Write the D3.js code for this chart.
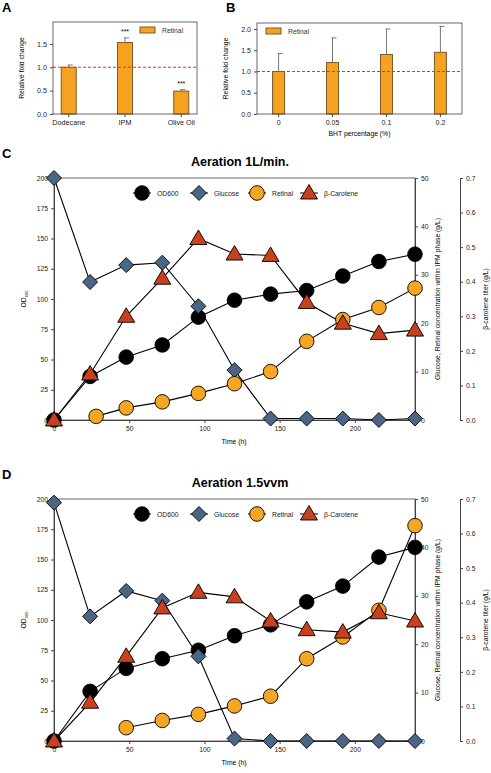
<!DOCTYPE html>
<html><head><meta charset="utf-8">
<script src="https://cdn.jsdelivr.net/npm/d3@7"></script>
<style>body{margin:0;background:#fff}svg{font-family:Arial,"Liberation Sans",sans-serif}</style>
</head><body><svg id="c" width="491" height="773"></svg>
<script>
// Panel A
const aCats=["Dodecane","IPM","Olive Oil"];
const aVals=[1.0,1.53,0.49];
const aErr=[0.05,0.1,0.03];
const aSig=["","***","***"];
// Panel B
const bCats=["0","0.05","0.1","0.2"];
const bVals=[1.0,1.21,1.40,1.45];
const bErr=[0.42,0.58,0.60,0.61];
// Panel C
const cTime=[0,24,48,72,96,120,144,168,192,216,240];
const cOD=[0,36,52,62,85,99,104,107,119,131,137];
const cGlc=[50,28.5,32,32.5,23.5,10.3,0.3,0.3,0.3,0,0.3];
const cRetT=[28,48,72,96,120,144,168,192,216,240];
const cRet=[0.75,2.5,3.75,5.5,7.5,10,16.25,20.75,23.25,27.25];
const cCar=[0,0.133,0.30,0.41,0.525,0.48,0.476,0.34,0.28,0.25,0.26];
// Panel D
const dTime=[0,24,48,72,96,120,144,168,192,216,240];
const dOD=[0,41,60,68,75,87,96,115,128,152,160];
const dGlc=[49.25,25.75,31,29,17.5,0.5,0,0,0,0,0];
const dRetT=[48,72,96,120,144,168,192,216,240];
const dRet=[2.75,4.25,5.5,7.25,9.25,17,21.5,27,44.5];
const dCar=[0,0.112,0.245,0.385,0.43,0.417,0.347,0.322,0.315,0.371,0.347];

const svg=d3.select("#c");
const BAR="#f4a21f",BARS="#7a5a2a",RED="#e8302a";
const COL={od:"#000",glc:"#4b6584",ret:"#f5a623",car:"#c8401e"};

function letter(t,x,y){svg.append("text").attr("x",x).attr("y",y).attr("font-size",13).attr("font-weight","bold").text(t);}

function barPanel(cats,vals,err,L,R,T,B,ymax,opts){
  const g=svg.append("g");
  const x=d3.scaleBand().domain(cats).range([L,R]).paddingInner(opts.pad).paddingOuter(opts.outer);
  const y=d3.scaleLinear().domain([0,ymax]).range([B,T]);
  const bw=opts.bw;
  cats.forEach((c,i)=>{
    const cx=x(c)+x.bandwidth()/2;
    g.append("line").attr("x1",cx).attr("x2",cx).attr("y1",y(vals[i])).attr("y2",y(vals[i]+err[i])).attr("stroke","#555").attr("stroke-width",0.8);
    g.append("line").attr("x1",cx-1).attr("x2",cx+4).attr("y1",y(vals[i]+err[i])).attr("y2",y(vals[i]+err[i])).attr("stroke","#555").attr("stroke-width",0.8);
    g.append("rect").attr("x",cx-bw/2).attr("width",bw).attr("y",y(vals[i])).attr("height",B-y(vals[i])).attr("fill",BAR).attr("stroke",BARS).attr("stroke-width",1);
    if(opts.sig&&opts.sig[i]) g.append("text").attr("x",cx).attr("y",y(vals[i]+err[i])-4).attr("text-anchor","middle").attr("font-size",7).text(opts.sig[i]);
  });
  g.append("line").attr("x1",L).attr("x2",R).attr("y1",y(1)).attr("y2",y(1)).attr("stroke",RED).attr("stroke-dasharray","3,2").attr("stroke-width",1.1);
  g.append("rect").attr("x",L).attr("y",T).attr("width",R-L).attr("height",B-T).attr("fill","none").attr("stroke","#444").attr("stroke-width",0.8);
  const ya=g.append("g").attr("transform",`translate(${L},0)`).call(d3.axisLeft(y).tickValues(opts.ticks).tickFormat(d3.format(".1f")).tickSize(3));
  const xa=g.append("g").attr("transform",`translate(0,${B})`).call(d3.axisBottom(x).tickSize(3));
  [ya,xa].forEach(a=>{a.select(".domain").remove();a.selectAll("text").attr("font-size",opts.fs).attr("fill","#222");a.selectAll("line").attr("stroke","#444");});
  g.append("text").attr("transform",`translate(${L-29},${(T+B)/2}) rotate(-90)`).attr("text-anchor","middle").attr("font-size",6.8).text("Relative fold change");
  g.append("rect").attr("x",opts.legX).attr("y",T+5).attr("width",15).attr("height",6).attr("fill",BAR).attr("stroke",BARS);
  g.append("text").attr("x",opts.legX+22).attr("y",T+11).attr("font-size",6.8).attr("fill","#333").text("Retinal");
  if(opts.xlabel) g.append("text").attr("x",(L+R)/2).attr("y",B+22).attr("text-anchor","middle").attr("font-size",6.8).text(opts.xlabel);
}
letter("A",2,12);
barPanel(aCats,aVals,aErr,53,197,22,114,1.97,{pad:0.78,outer:0.17,bw:15,ticks:[0,0.5,1,1.5],fs:7.2,sig:aSig,legX:140});
letter("B",226,12);
barPanel(bCats,bVals,bErr,257,462,23,114,2.14,{pad:0.8,outer:0.3,bw:12,ticks:[0,0.5,1,1.5,2],fs:7,legX:266,xlabel:"BHT percentage (%)"});

function sym(g,type,cx,cy,col){
  if(type==="circle") g.append("circle").attr("cx",cx).attr("cy",cy).attr("r",7.3).attr("fill",col).attr("stroke","#000").attr("stroke-width",0.9);
  else if(type==="diamond") g.append("path").attr("d",`M${cx},${cy-7.5}L${cx+7.5},${cy}L${cx},${cy+7.5}L${cx-7.5},${cy}Z`).attr("fill",col).attr("stroke","#000").attr("stroke-width",0.9);
  else g.append("path").attr("d",`M${cx},${cy-8.5}L${cx+8.5},${cy+6}L${cx-8.5},${cy+6}Z`).attr("fill",col).attr("stroke","#000").attr("stroke-width",0.9);
}

function linePanel(lt,title,T,B,time,od,glc,retT,ret,car){
  const L=54,R=415,R2=460;
  const g=svg.append("g");
  letter(lt,2,T-20);
  g.append("text").attr("x",240).attr("y",T-12).attr("text-anchor","middle").attr("font-size",12.5).attr("font-weight","bold").text(title);
  const x=d3.scaleLinear().domain([0,240]).range([L,R]);
  const yOD=d3.scaleLinear().domain([0,200]).range([B,T]);
  const yG=d3.scaleLinear().domain([0,50]).range([B,T]);
  const yC=d3.scaleLinear().domain([0,0.7]).range([B,T]);
  g.append("rect").attr("x",L).attr("y",T).attr("width",R-L).attr("height",B-T).attr("fill","none").attr("stroke","#444").attr("stroke-width",0.8);
  const style=a=>{a.select(".domain").attr("stroke","#444");a.selectAll("text").attr("font-size",6.8).attr("fill","#222");a.selectAll("line").attr("stroke","#444");};
  const ax1=g.append("g").attr("transform",`translate(${L},0)`).call(d3.axisLeft(yOD).tickValues(d3.range(0,201,25)).tickSize(3));style(ax1);
  const ax2=g.append("g").attr("transform",`translate(${R},0)`).call(d3.axisRight(yG).tickValues(d3.range(0,51,10)).tickSize(3));style(ax2);
  const ax3=g.append("g").attr("transform",`translate(${R2},0)`).call(d3.axisRight(yC).tickValues(d3.range(0,0.71,0.1)).tickFormat(d3.format(".1f")).tickSize(3));style(ax3);
  const ax4=g.append("g").attr("transform",`translate(0,${B})`).call(d3.axisBottom(x).tickValues([0,50,100,150,200]).tickSize(3));style(ax4);
  g.append("text").attr("x",234).attr("y",B+24).attr("text-anchor","middle").attr("font-size",6.8).text("Time (h)");
  const od_t=g.append("text").attr("transform",`translate(26,${(T+B)/2}) rotate(-90)`).attr("text-anchor","middle").attr("font-size",6.8);
  od_t.append("tspan").text("OD");od_t.append("tspan").attr("font-size",4).attr("dy",2).text("600");
  g.append("text").attr("transform",`translate(440,${(T+B)/2}) rotate(-90)`).attr("text-anchor","middle").attr("font-size",6.8).text("Glucose, Retinal concentration within IPM phase (g/L)");
  g.append("text").attr("transform",`translate(488,${(T+B)/2}) rotate(-90)`).attr("text-anchor","middle").attr("font-size",6.8).text("β-carotene titer (g/L)");
  const ln=d3.line();
  const series=[
    {t:time,v:od,y:yOD,type:"circle",col:COL.od},
    {t:time,v:glc,y:yG,type:"diamond",col:COL.glc},
    {t:retT,v:ret,y:yG,type:"circle",col:COL.ret},
    {t:time,v:car,y:yC,type:"triangle",col:COL.car}];
  series.forEach(s=>{
    g.append("path").attr("d",ln(s.t.map((t,i)=>[x(t),s.y(s.v[i])]))).attr("fill","none").attr("stroke","#000").attr("stroke-width",1.1);
  });
  series.forEach(s=>{s.t.forEach((t,i)=>sym(g,s.type,x(t),s.y(s.v[i]),s.col));});
  const leg=[["OD600",142,"circle",COL.od],["Glucose",199,"diamond",COL.glc],["Retinal",257,"circle",COL.ret],["β-Carotene",309,"triangle",COL.car]];
  const ly=T+15;
  leg.forEach(l=>{
    g.append("line").attr("x1",l[1]-9).attr("x2",l[1]+9).attr("y1",ly).attr("y2",ly).attr("stroke","#000");
    sym(g,l[2],l[1],ly,l[3]);
    g.append("text").attr("x",l[1]+15).attr("y",ly+2.5).attr("font-size",6.8).attr("fill","#222").text(l[0]);
  });
}
linePanel("C","Aeration 1L/min.",178,420,cTime,cOD,cGlc,cRetT,cRet,cCar);
linePanel("D","Aeration 1.5vvm",499,741,dTime,dOD,dGlc,dRetT,dRet,dCar);
</script></body></html>
